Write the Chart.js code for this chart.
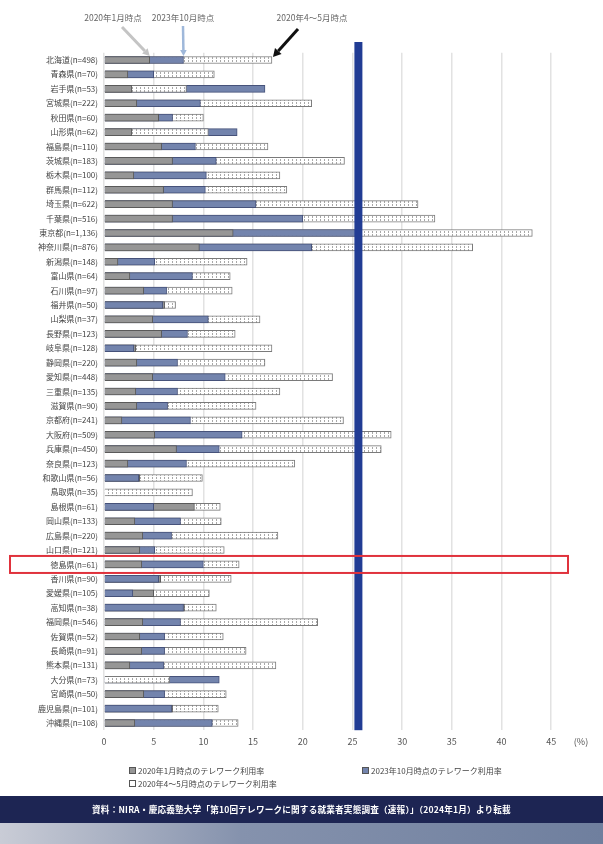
<!DOCTYPE html>
<html><head><meta charset="utf-8">
<script src="https://cdn.jsdelivr.net/npm/chart.js@4/dist/chart.umd.min.js"></script>
<style>
html,body{margin:0;padding:0;background:#fff;width:603px;height:844px;overflow:hidden;font-family:"Noto Sans CJK JP","Noto Sans",sans-serif;}
#wrap{position:absolute;left:0;top:0;width:603px;height:844px;}
canvas{position:absolute;left:0;top:0;}
.t{position:absolute;font-size:8.5px;color:#666;white-space:nowrap;transform:translateX(-50%);}
.lg{position:absolute;font-size:8px;color:#444;white-space:nowrap;display:flex;align-items:center;}
.sw{display:inline-block;width:7px;height:7px;margin-right:2px;border:1px solid #555;box-sizing:border-box;}
#foot{position:absolute;left:0;top:796px;width:603px;height:27px;background:#1d2553;color:#fff;font-size:8.6px;font-weight:bold;line-height:27px;text-align:center;letter-spacing:0.2px;}
#foot2{position:absolute;left:0;top:823px;width:603px;height:21px;background:linear-gradient(90deg,#c9ccd6 0%,#8592ad 40%,#6f7f9e 100%);}
</style></head>
<body><div id="wrap"><canvas id="c" width="603" height="844"></canvas>
<div class="t" style="left:113px;top:11px;">2020年1月時点</div>
<div class="t" style="left:183px;top:11px;">2023年10月時点</div>
<div class="t" style="left:312px;top:11px;">2020年4～5月時点</div>
<div class="lg" style="left:129px;top:765px;"><span class="sw" style="background:#969696"></span>2020年1月時点のテレワーク利用率</div>
<div class="lg" style="left:362px;top:765px;"><span class="sw" style="background:#7384ad"></span>2023年10月時点のテレワーク利用率</div>
<div class="lg" style="left:129px;top:778px;"><span class="sw" style="background:#fff"></span>2020年4～5月時点のテレワーク利用率</div>
<div id="foot">資料：NIRA・慶応義塾大学「第10回テレワークに関する就業者実態調査（速報）」（2024年1月）より転載</div>
<div id="foot2"></div>
</div>
<script>
const prefectures = ["北海道(n=498)","青森県(n=70)","岩手県(n=53)","宮城県(n=222)","秋田県(n=60)","山形県(n=62)","福島県(n=110)","茨城県(n=183)","栃木県(n=100)","群馬県(n=112)","埼玉県(n=622)","千葉県(n=516)","東京都(n=1,136)","神奈川県(n=876)","新潟県(n=148)","富山県(n=64)","石川県(n=97)","福井県(n=50)","山梨県(n=37)","長野県(n=123)","岐阜県(n=128)","静岡県(n=220)","愛知県(n=448)","三重県(n=135)","滋賀県(n=90)","京都府(n=241)","大阪府(n=509)","兵庫県(n=450)","奈良県(n=123)","和歌山県(n=56)","鳥取県(n=35)","島根県(n=61)","岡山県(n=133)","広島県(n=220)","山口県(n=121)","徳島県(n=61)","香川県(n=90)","愛媛県(n=105)","高知県(n=38)","福岡県(n=546)","佐賀県(n=52)","長崎県(n=91)","熊本県(n=131)","大分県(n=73)","宮崎県(n=50)","鹿児島県(n=101)","沖縄県(n=108)"];
const jan2020 = [4.6,2.4,2.8,3.3,5.5,2.8,5.8,6.9,3.0,6.0,6.9,6.9,13.0,9.6,1.4,2.6,4.0,6.1,4.9,5.8,3.2,3.3,4.9,3.2,3.3,1.8,5.1,7.3,2.4,3.6,0,9.1,3.1,3.9,3.6,3.8,5.7,5.0,8.1,3.9,3.6,3.8,2.6,0,4.0,6.9,3.1];
const oct2023 = [8.0,5.0,16.2,9.7,6.9,13.4,9.2,11.3,10.3,10.2,15.3,20.0,25.4,20.9,5.1,8.9,6.3,5.9,10.5,8.4,3.0,7.4,12.2,7.4,6.4,8.7,13.9,11.6,8.3,3.5,0,5.0,7.7,6.8,5.1,10.0,5.5,2.9,8.0,7.7,6.1,6.1,6.0,11.6,6.1,6.8,10.9];
const aprMay2020 = [16.9,11.1,8.3,20.9,10.0,10.5,16.5,24.2,17.7,18.4,31.6,33.3,43.1,37.1,14.4,12.7,12.9,7.2,15.7,13.2,16.9,16.2,23.0,17.7,15.3,24.1,28.9,27.9,19.2,9.9,8.9,11.7,11.8,17.5,12.1,13.6,12.8,10.6,11.3,21.5,12.0,14.3,17.3,6.6,12.3,11.5,13.5];
const xTickValues = [0,5,10,15,20,25,30,35,40,45];
const unitLabel = "(%)";
const highlightPrefecture = "徳島県(n=61)";
const referenceLineValue = 25.6;

// hatched pattern for the Apr-May 2020 series
const pc = document.createElement('canvas'); pc.width = 4; pc.height = 3;
const pctx = pc.getContext('2d');
pctx.fillStyle = '#ffffff'; pctx.fillRect(0,0,4,3);
pctx.fillStyle = '#a8a8a8'; pctx.fillRect(0,0,1,2);
const ctx0 = document.getElementById('c').getContext('2d');
const hatch = ctx0.createPattern(pc,'repeat');

const seriesStyle = [
  {name:'jan', values: jan2020, fill:'#969696', border:'#5a5a5a'},
  {name:'oct', values: oct2023, fill:'#7384ad', border:'#46527a'},
  {name:'apr', values: aprMay2020, fill: hatch, border:'#7a7a7a'}
];
// per row: longest at the back, shortest in front
const layers = [[],[],[]];
prefectures.forEach((p,i)=>{
  const sorted = seriesStyle.map(s=>({v:s.values[i], s})).sort((a,b)=>b.v-a.v);
  sorted.forEach((e,k)=>layers[k].push(e));
});
const datasets = layers.map((L,k)=>({
  label:'layer'+k,
  data: L.map(e=>e.v),
  backgroundColor: L.map(e=>e.s.fill),
  borderColor: L.map(e=>e.s.border),
  borderWidth: 1,
  barThickness: 7,
  grouped: false,
  order: 3-k
}));

const overlay = {
  id:'overlay',
  afterDatasetsDraw(chart){
    const c = chart.ctx, xs = chart.scales.x, ys = chart.scales.y, ca = chart.chartArea;
    c.save();
    // reference vertical line
    const lx = xs.getPixelForValue(referenceLineValue);
    c.fillStyle = '#213c94';
    c.fillRect(lx-4, 42, 8, ca.bottom-42);
    // highlight box
    const hi = prefectures.indexOf(highlightPrefecture);
    const hy = ys.getPixelForValue(hi);
    c.strokeStyle = '#e0323c'; c.lineWidth = 2;
    c.strokeRect(10, hy-8.5, 558, 17);
    // arrows
    const y0 = ys.getPixelForValue(0);
    function arrow(x1,y1,x2,y2,col,w,hs){
      c.strokeStyle=col; c.fillStyle=col; c.lineWidth=w;
      const a=Math.atan2(y2-y1,x2-x1);
      const bx=x2-hs*Math.cos(a), by=y2-hs*Math.sin(a);
      c.beginPath(); c.moveTo(x1,y1); c.lineTo(bx,by); c.stroke();
      c.beginPath(); c.moveTo(x2,y2);
      c.lineTo(bx+hs*0.55*Math.sin(a), by-hs*0.55*Math.cos(a));
      c.lineTo(bx-hs*0.55*Math.sin(a), by+hs*0.55*Math.cos(a));
      c.closePath(); c.fill();
    }
    arrow(122,27, xs.getPixelForValue(jan2020[0]), y0-4, '#c4c4c4', 3, 7);
    arrow(183,26, xs.getPixelForValue(oct2023[0]), y0-4, '#9fb8da', 2.5, 6);
    arrow(298,29, xs.getPixelForValue(aprMay2020[0])+1, y0-3, '#111111', 3, 8);
    c.restore();
  }
};

new Chart(document.getElementById('c'), {
  type:'bar',
  data:{labels: prefectures, datasets},
  options:{
    indexAxis:'y',
    responsive:false,
    animation:false,
    layout:{padding:{left:0,right:22,top:52.8,bottom:91.8}},
    plugins:{legend:{display:false},tooltip:{enabled:false}},
    scales:{
      x:{
        min:0, max:48,
        afterBuildTicks(s){ s.ticks = xTickValues.concat([48]).map(v=>({value:v})); },
        afterFit(s){ s.height = 22; },
        ticks:{callback:(v)=> v===48 ? unitLabel : String(v), color:'#555', font:{size:9, family:'"Noto Sans CJK JP"'}, padding:6, maxRotation:0},
        grid:{color:(c)=> c.tick && c.tick.value===48 ? 'rgba(0,0,0,0)' : '#e2e2e2', lineWidth:1.5, drawTicks:false},
        border:{display:false}
      },
      y:{
        afterFit(s){ s.width = 104; },
        ticks:{color:'#444', font:{size:8, family:'"Noto Sans CJK JP"'}, padding:6, autoSkip:false},
        grid:{display:false, drawTicks:false},
        border:{display:false}
      }
    }
  },
  plugins:[overlay]
});
</script>
</body></html>
